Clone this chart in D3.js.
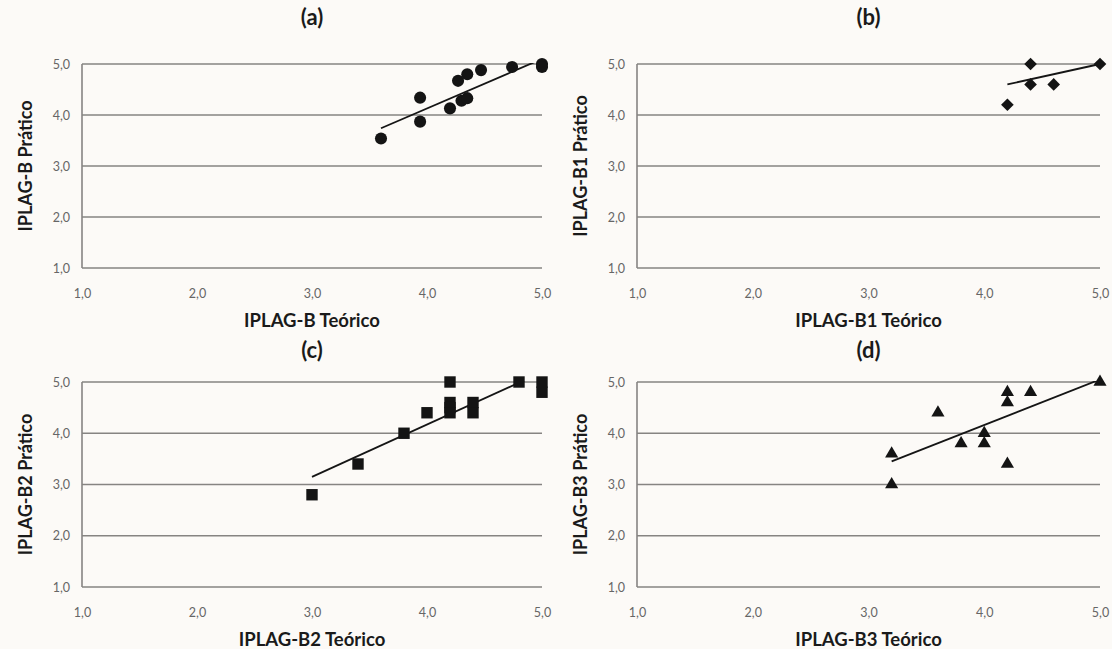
<!DOCTYPE html>
<html>
<head>
<meta charset="utf-8">
<script src="https://cdn.jsdelivr.net/npm/d3@7"></script>
<style>
  html, body { margin: 0; padding: 0; background: #fcfaf7; }
  svg { display: block; }
  .tick text { fill: #666; font-family: Lato, "Open Sans", sans-serif; font-size: 12.5px; }
</style>
</head>
<body>
<div id="chart"></div>
<script>
const width = 1112;
const height = 649;

// data
const ticks = [1, 2, 3, 4, 5];

const aX = [3.6, 3.94, 3.94, 4.2, 4.3, 4.35, 4.27, 4.35, 4.47, 4.74, 5.0, 5.0];
const aY = [3.54, 4.34, 3.87, 4.13, 4.28, 4.33, 4.67, 4.8, 4.88, 4.94, 5.0, 4.94];
const aTrendX = [3.6, 5.0];
const aTrendY = [3.74, 5.1];

const bX = [4.2, 4.4, 4.4, 4.6, 5.0];
const bY = [4.2, 5.0, 4.6, 4.6, 5.0];
const bTrendX = [4.2, 5.0];
const bTrendY = [4.6, 5.0];

const cX = [3.0, 3.4, 3.8, 4.0, 4.2, 4.2, 4.2, 4.2, 4.4, 4.4, 4.8, 5.0, 5.0];
const cY = [2.8, 3.4, 4.0, 4.4, 5.0, 4.6, 4.5, 4.4, 4.6, 4.4, 5.0, 5.0, 4.8];
const cTrendX = [3.0, 5.0];
const cTrendY = [3.15, 5.19];

const dX = [3.2, 3.2, 3.6, 3.8, 4.0, 4.0, 4.2, 4.2, 4.2, 4.4, 5.0];
const dY = [3.6, 3.0, 4.4, 3.8, 4.0, 3.8, 4.8, 4.6, 3.4, 4.8, 5.0];
const dTrendX = [3.2, 5.0];
const dTrendY = [3.45, 5.05];

const svg = d3.select("#chart")
    .append("svg")
    .attr("width", width)
    .attr("height", height)
    .attr("viewBox", [0, 0, width, height]);

const fmt = d => d.toFixed(1).replace(".", ",");
const font = "Lato, 'Open Sans', sans-serif";

function drawPanel(p) {
    const x = d3.scaleLinear().domain([1, 5]).range([p.x0, p.x1]);
    const y = d3.scaleLinear().domain([1, 5]).range([p.y0, p.y1]);
    const g = svg.append("g");

    g.append("defs").append("clipPath")
        .attr("id", "clip-" + p.id)
        .append("rect")
        .attr("x", p.x0 - 10).attr("y", p.y1 - 1)
        .attr("width", p.x1 - p.x0 + 20).attr("height", p.y0 - p.y1 + 1);

    // horizontal gridlines (incl. bottom axis)
    g.append("g")
        .selectAll("line")
        .data(ticks)
        .join("line")
        .attr("x1", p.x0).attr("x2", p.x1)
        .attr("y1", d => y(d)).attr("y2", d => y(d))
        .attr("stroke", "#868482")
        .attr("stroke-width", 1.6);

    g.append("line")
        .attr("x1", p.x0).attr("x2", p.x0)
        .attr("y1", y(1)).attr("y2", y(5))
        .attr("stroke", "#868482")
        .attr("stroke-width", 1.6);

    // tick labels
    g.append("g")
        .attr("transform", `translate(${p.x0 - 9},0)`)
        .call(d3.axisLeft(y).tickValues(ticks).tickFormat(fmt).tickSize(0))
        .call(s => s.select(".domain").remove());

    g.append("g")
        .attr("transform", `translate(0,${y(1) + 18})`)
        .call(d3.axisBottom(x).tickValues(ticks).tickFormat(fmt).tickSize(0))
        .call(s => s.select(".domain").remove());

    // trend line
    g.append("line")
        .attr("clip-path", `url(#clip-${p.id})`)
        .attr("x1", x(p.tx[0])).attr("y1", y(p.ty[0]))
        .attr("x2", x(p.tx[1])).attr("y2", y(p.ty[1]))
        .attr("stroke", "#151515")
        .attr("stroke-width", 1.8);

    // points
    const sym = d3.symbol().type(p.symbol).size(p.size);
    g.append("g")
        .selectAll("path")
        .data(p.xs.map((v, i) => [v, p.ys[i]]))
        .join("path")
        .attr("d", sym)
        .attr("fill", "#141414")
        .attr("transform", d => `translate(${x(d[0])},${y(d[1])}) rotate(${p.rotate || 0})`);

    // titles
    const cx = (p.x0 + p.x1) / 2;
    g.append("text")
        .attr("x", cx).attr("y", p.titleY)
        .attr("text-anchor", "middle")
        .attr("font-family", font).attr("font-weight", "bold")
        .attr("font-size", 22).attr("fill", "#1a1a1a")
        .text(p.title);

    g.append("text")
        .attr("x", cx).attr("y", y(1) + 59)
        .attr("text-anchor", "middle")
        .attr("font-family", font).attr("font-weight", "bold")
        .attr("font-size", 18.5).attr("fill", "#1a1a1a")
        .text(p.xTitle);

    g.append("text")
        .attr("transform", `translate(${p.x0 - 50},${(y(1) + y(5)) / 2}) rotate(-90)`)
        .attr("text-anchor", "middle")
        .attr("font-family", font).attr("font-weight", "bold")
        .attr("font-size", 18).attr("fill", "#1a1a1a")
        .text(p.yTitle);
}

drawPanel({ id: "a", x0: 82, x1: 542, y0: 268, y1: 64, titleY: 25,
    title: "(a)", xTitle: "IPLAG-B Teórico", yTitle: "IPLAG-B Prático",
    xs: aX, ys: aY, tx: aTrendX, ty: aTrendY, symbol: d3.symbolCircle, size: 115 });

drawPanel({ id: "b", x0: 637, x1: 1100, y0: 268, y1: 64, titleY: 25,
    title: "(b)", xTitle: "IPLAG-B1 Teórico", yTitle: "IPLAG-B1 Prático",
    xs: bX, ys: bY, tx: bTrendX, ty: bTrendY, symbol: d3.symbolSquare, size: 80, rotate: 45 });

drawPanel({ id: "c", x0: 82, x1: 542, y0: 587, y1: 382, titleY: 358,
    title: "(c)", xTitle: "IPLAG-B2 Teórico", yTitle: "IPLAG-B2 Prático",
    xs: cX, ys: cY, tx: cTrendX, ty: cTrendY, symbol: d3.symbolSquare, size: 130 });

drawPanel({ id: "d", x0: 637, x1: 1100, y0: 587, y1: 382, titleY: 358,
    title: "(d)", xTitle: "IPLAG-B3 Teórico", yTitle: "IPLAG-B3 Prático",
    xs: dX, ys: dY, tx: dTrendX, ty: dTrendY, symbol: d3.symbolTriangle, size: 75 });
</script>
</body>
</html>
